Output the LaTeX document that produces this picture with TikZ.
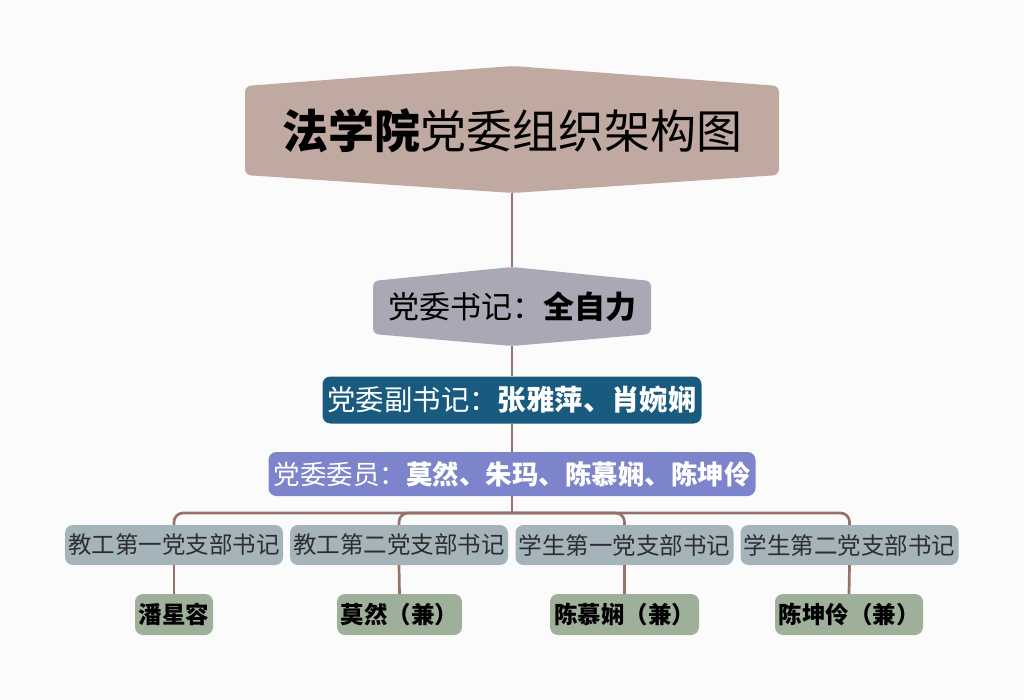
\documentclass[tikz,border=0pt]{standalone}
\usepackage{fontspec}
\setmainfont{Noto Sans CJK SC}
\usetikzlibrary{calc}
\definecolor{bgc}{HTML}{FBFBFB}
\definecolor{titlec}{HTML}{BFA9A1}
\definecolor{secc}{HTML}{A9A9B5}
\definecolor{vicec}{HTML}{185B7E}
\definecolor{memc}{HTML}{7C84CB}
\definecolor{branchc}{HTML}{A4B4BA}
\definecolor{leafc}{HTML}{9EB09A}
\definecolor{linec}{HTML}{97726B}
\definecolor{textc}{HTML}{2E2E2E}
\begin{document}
\begin{tikzpicture}[x=1pt,y=-1pt,
  conn/.style={draw=linec,line width=2.7pt},
  flatbox/.style={rounded corners=8pt,inner sep=0pt,align=center},
  branchbox/.style={flatbox,fill=branchc,minimum width=218pt,minimum height=40pt,text=textc,font=\fontsize{23.5}{26}\selectfont},
  leafbox/.style={flatbox,fill=leafc,minimum height=41pt,text=black,font=\fontsize{23.5}{26}\selectfont\bfseries}]
\useasboundingbox (0,0) rectangle (1024,700);
\fill[bgc] (0,0) rectangle (1024,700);

% title hexagon
\fill[titlec,rounded corners=6pt] (245,86) -- (513,66) -- (779,86) -- (779,175) -- (513,193) -- (245,175) -- cycle;
\node[font=\fontsize{46}{50}\selectfont,text=black] (title) at (512,131) {{\bfseries 法学院}党委组织架构图};
\coordinate (titlebot) at (512,193);

% secretary hexagon
\fill[secc,rounded corners=5pt] (373,281) -- (512,267) -- (651,281) -- (651,334) -- (512,346) -- (373,334) -- cycle;
\node[font=\fontsize{31}{34}\selectfont,text=black] (sec) at (512,307) {党委书记：{\bfseries 全自力}};
\coordinate (sectop) at (512,267);
\coordinate (secbot) at (512,346);

% vice secretaries
\node[flatbox,fill=vicec,minimum width=379pt,minimum height=47pt,text=white,font=\fontsize{28.4}{31}\selectfont] (vice) at (512,400) {党委副书记：{\bfseries 张雅萍、肖婉娴}};

% members
\node[flatbox,fill=memc,minimum width=487pt,minimum height=44pt,text=white,font=\fontsize{26.5}{29}\selectfont] (mem) at (512,474) {党委委员：{\bfseries 莫然、朱玛、陈慕娴、陈坤伶}};

% branches
\node[branchbox] (b1) at (174,545) {教工第一党支部书记};
\node[branchbox] (b2) at (399,545) {教工第二党支部书记};
\node[branchbox] (b3) at (624.5,545) {学生第一党支部书记};
\node[branchbox] (b4) at (849.5,545) {学生第二党支部书记};

% leaves
\node[leafbox,minimum width=78pt] (l1) at (174,614.5) {潘星容};
\node[leafbox,minimum width=125pt] (l2) at (399.5,614.5) {莫然（兼）};
\node[leafbox,minimum width=149pt] (l3) at (624.5,614.5) {陈慕娴（兼）};
\node[leafbox,minimum width=148pt] (l4) at (849,614.5) {陈坤伶（兼）};

% connectors
\coordinate (bus) at (512,513);
\draw[conn] (titlebot) -- (sectop);
\draw[conn] (secbot) -- (vice.north);
\draw[conn] (vice.south) -- (mem.north);
\draw[conn] (mem.south) -- (bus);
\draw[conn,rounded corners=9pt] (b1.north) |- (bus);
\draw[conn,rounded corners=9pt] (b2.north) |- (bus);
\draw[conn,rounded corners=9pt] (b3.north) |- (bus);
\draw[conn,rounded corners=9pt] (b4.north) |- (bus);
\draw[conn] (b1.south) -- (l1.north);
\draw[conn] (b2.south) -- (l2.north);
\draw[conn] (b3.south) -- (l3.north);
\draw[conn] (b4.south) -- (l4.north);
\end{tikzpicture}
\end{document}
